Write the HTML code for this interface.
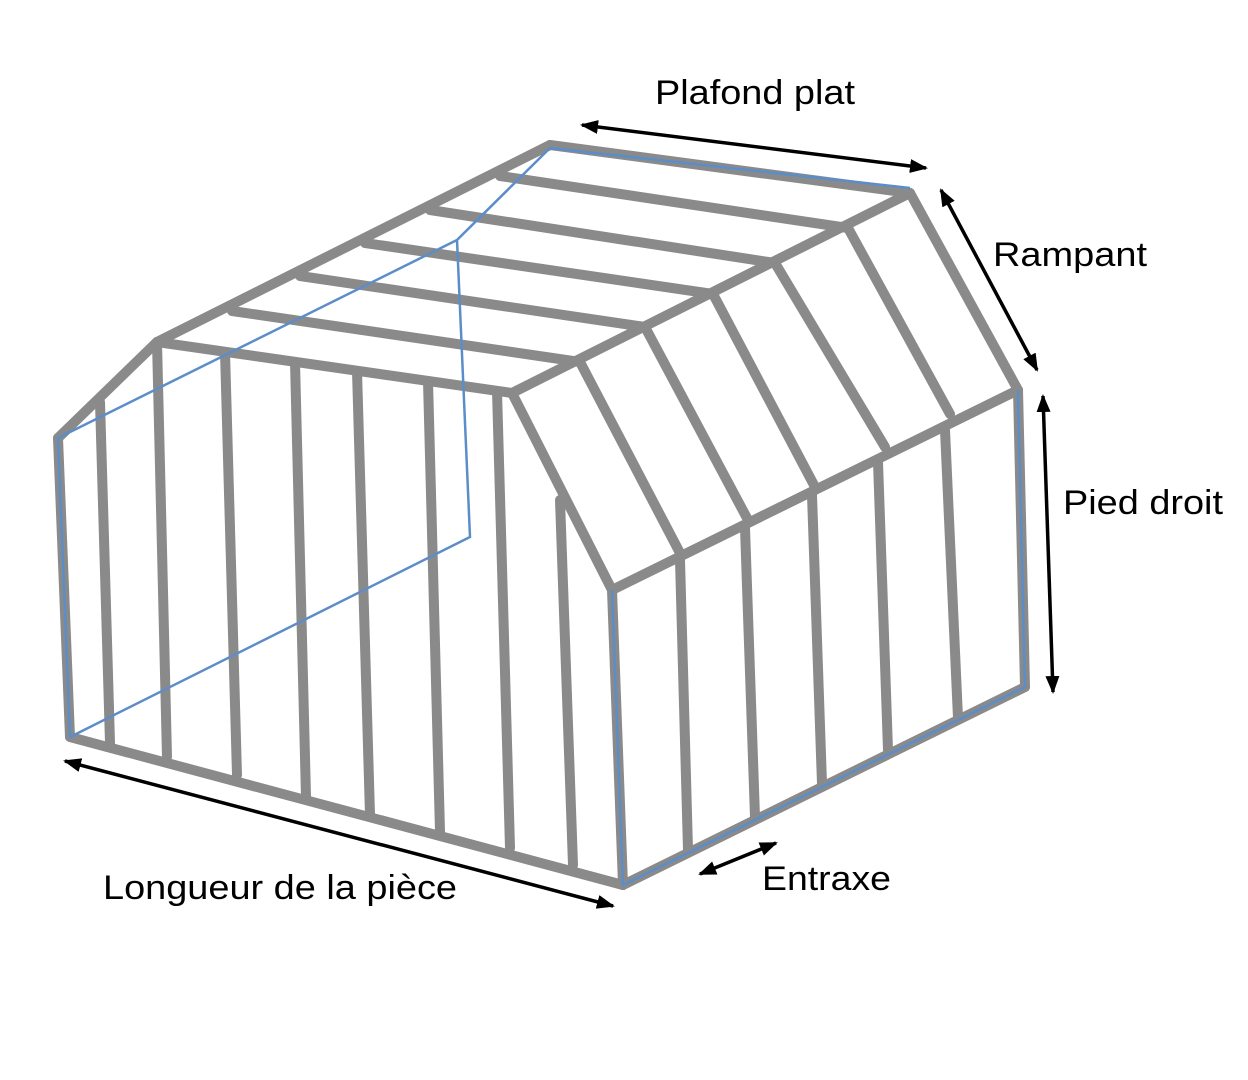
<!DOCTYPE html>
<html><head><meta charset="utf-8"><style>
html,body{margin:0;padding:0;background:#fff;}
svg{display:block;}
text{font-family:"Liberation Sans",Arial,sans-serif;font-size:34px;fill:#000;}
</style></head><body>
<svg width="1248" height="1080" viewBox="0 0 1248 1080" xmlns="http://www.w3.org/2000/svg">
<defs>
<marker id="ah" markerWidth="18" markerHeight="14" refX="16" refY="7" orient="auto-start-reverse" markerUnits="userSpaceOnUse" viewBox="0 0 18 14">
<path d="M0,0 L18,7 L0,14 z" fill="#000"/>
</marker>
</defs>
<g stroke="#8a8a8a" stroke-width="10" stroke-linecap="round" fill="none">
<line x1="58" y1="438" x2="70" y2="737"/>
<line x1="100" y1="402" x2="110" y2="743"/>
<line x1="157" y1="342" x2="167" y2="757"/>
<line x1="225" y1="352" x2="237" y2="775"/>
<line x1="295" y1="362" x2="306" y2="797"/>
<line x1="357" y1="371" x2="370" y2="815"/>
<line x1="428" y1="381" x2="440" y2="832"/>
<line x1="497" y1="391" x2="510" y2="848"/>
<line x1="560" y1="500" x2="573" y2="865"/>
<line x1="70" y1="737" x2="623" y2="885"/>
<line x1="58" y1="438" x2="157" y2="342"/>
<line x1="157" y1="342" x2="512" y2="393"/>
<line x1="157" y1="342" x2="550" y2="145"/>
<line x1="550" y1="145" x2="910" y2="193"/>
<line x1="500" y1="176" x2="848" y2="228"/>
<line x1="430" y1="210" x2="775" y2="263"/>
<line x1="365" y1="243" x2="713" y2="294"/>
<line x1="300" y1="276" x2="645" y2="327"/>
<line x1="232" y1="311" x2="580" y2="362"/>
<line x1="512" y1="393" x2="910" y2="193"/>
<line x1="512" y1="393" x2="612" y2="590"/>
<line x1="910" y1="193" x2="1018" y2="390"/>
<line x1="612" y1="590" x2="1018" y2="390"/>
<line x1="580" y1="362" x2="680" y2="553"/>
<line x1="645" y1="327" x2="748" y2="520"/>
<line x1="713" y1="294" x2="815" y2="487"/>
<line x1="775" y1="263" x2="885" y2="447"/>
<line x1="848" y1="228" x2="950" y2="414"/>
<line x1="612" y1="590" x2="623" y2="885"/>
<line x1="1018" y1="390" x2="1025" y2="687"/>
<line x1="623" y1="885" x2="1025" y2="687"/>
<line x1="680" y1="560" x2="688" y2="850"/>
<line x1="745" y1="528" x2="755" y2="817"/>
<line x1="812" y1="495" x2="822" y2="784"/>
<line x1="878" y1="462" x2="888" y2="750"/>
<line x1="945" y1="430" x2="958" y2="718"/>
</g>
<g stroke="#5b8ec8" stroke-width="2.5" fill="none">
<polyline points="550,148 457,240 470,537 70,737 58,438 457,240"/>
<line x1="550" y1="148" x2="910" y2="188"/>
<polyline points="612,590 623,885 1025,687 1018,390"/>
</g>
<g stroke="#000" stroke-width="3.5" marker-start="url(#ah)" marker-end="url(#ah)">
<line x1="582" y1="125" x2="926" y2="168"/>
<line x1="941" y1="190" x2="1037" y2="370"/>
<line x1="1043" y1="396" x2="1053" y2="692"/>
<line x1="700" y1="874" x2="776" y2="843"/>
<line x1="65" y1="761" x2="613" y2="906"/>
</g>
<text x="655" y="104" textLength="200" lengthAdjust="spacingAndGlyphs">Plafond plat</text>
<text x="993" y="266" textLength="154" lengthAdjust="spacingAndGlyphs">Rampant</text>
<text x="1063" y="514" textLength="160" lengthAdjust="spacingAndGlyphs">Pied droit</text>
<text x="762" y="890" textLength="129" lengthAdjust="spacingAndGlyphs">Entraxe</text>
<text x="103" y="899" textLength="354" lengthAdjust="spacingAndGlyphs">Longueur de la pièce</text>
</svg>
</body></html>
